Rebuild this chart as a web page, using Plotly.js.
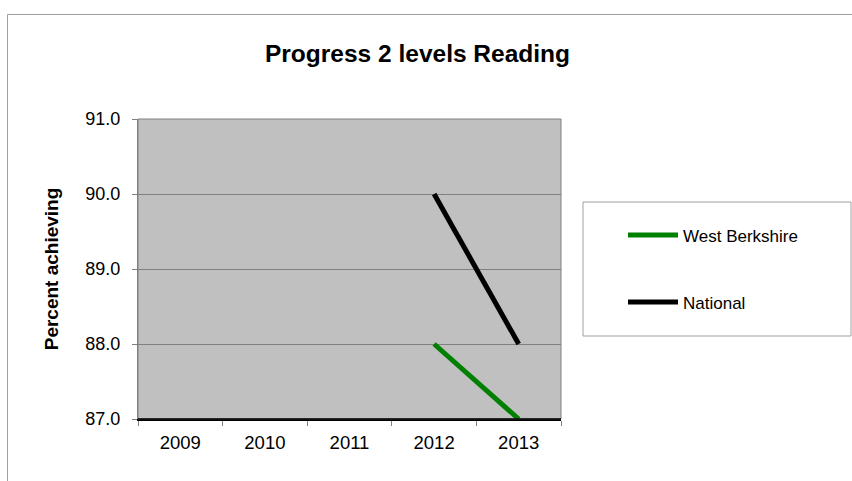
<!DOCTYPE html>
<html>
<head>
<meta charset="utf-8">
<script src="https://cdn.plot.ly/plotly-3.0.1.min.js"></script>
<style>html,body{margin:0;padding:0;background:#fff;}#chart{width:852px;height:481px;}</style>
</head>
<body>
<div id="chart"></div>
<script>
const years = ['2009', '2010', '2011', '2012', '2013'];
const westBerkshire = [null, null, null, 88.0, 87.0];
const national = [null, null, null, 90.0, 88.0];
const yTicks = [87, 88, 89, 90, 91];

const FONT = 'Liberation Sans, Arial, sans-serif';

const traces = [
  {x: years, y: westBerkshire, name: 'West Berkshire', type: 'scatter', mode: 'lines',
   line: {color: '#008000', width: 5}, legendgroup: 'a', hoverinfo: 'x+y'},
  {x: years, y: national, name: 'National', type: 'scatter', mode: 'lines',
   line: {color: '#000000', width: 5}, legendgroup: 'b', hoverinfo: 'x+y'}
];

const layout = {
  width: 852, height: 481,
  margin: {l: 138, r: 291, t: 119, b: 62},
  paper_bgcolor: '#ffffff',
  plot_bgcolor: '#c0c0c0',
  font: {family: FONT, size: 18, color: '#000'},
  title: {text: '<b>Progress 2 levels Reading</b>', font: {family: FONT, size: 24.5, color: '#000'},
          x: 417.5/852, xref: 'container', xanchor: 'center', y: 1 - 53/481, yref: 'container', yanchor: 'middle'},
  xaxis: {type: 'category', categoryorder: 'array', categoryarray: years, range: [-0.5, 4.5],
          tickson: 'boundaries', ticks: 'outside', ticklen: 5, tickcolor: '#808080',
          ticklabelstandoff: 6,
          showgrid: false, showline: true, linecolor: '#000', linewidth: 1.5, zeroline: false,
          tickfont: {family: FONT, size: 18.5, color: '#000'}, fixedrange: true},
  yaxis: {range: [87, 91], tickvals: yTicks, tickformat: '.1f', ticks: 'outside', ticklen: 5,
          tickcolor: '#808080', showgrid: true, gridcolor: '#808080', gridwidth: 1,
          ticklabelstandoff: 8,
          showline: true, linecolor: '#808080', zeroline: false,
          tickfont: {family: FONT, size: 18, color: '#000'},
          title: {text: '<b>Percent achieving</b>', font: {family: FONT, size: 19, color: '#000'}, standoff: 21},
          fixedrange: true},
  showlegend: true,
  legend: {x: (623-138)/423, xanchor: 'left', y: 0.672, yanchor: 'top', bgcolor: 'rgba(0,0,0,0)',
           borderwidth: 0, tracegroupgap: 42, traceorder: 'grouped', itemwidth: 50,
           font: {family: FONT, size: 17, color: '#000'}},
  shapes: [
    {type: 'rect', xref: 'paper', yref: 'paper', x0: 0, x1: 1, y0: 0, y1: 1,
     line: {color: '#808080', width: 1}, fillcolor: 'rgba(0,0,0,0)', layer: 'above'},
    {type: 'line', xref: 'paper', yref: 'paper', x0: 0, x1: 1, y0: 0, y1: 0,
     line: {color: '#000', width: 1.5}, layer: 'above'},
    {type: 'rect', xref: 'paper', yref: 'paper', x0: (583-138)/423, x1: (851-138)/423,
     y0: (419-336)/300, y1: (419-202)/300, line: {color: '#a0a0a0', width: 1}, fillcolor: '#ffffff', layer: 'below'},
    {type: 'line', xref: 'paper', yref: 'paper', x0: (7.5-138)/423, x1: (860-138)/423,
     y0: (419-14.5)/300, y1: (419-14.5)/300, line: {color: '#a0a0a0', width: 1}},
    {type: 'line', xref: 'paper', yref: 'paper', x0: (7.5-138)/423, x1: (7.5-138)/423,
     y0: (419-14.5)/300, y1: (419-500)/300, line: {color: '#a0a0a0', width: 1}}
  ]
};

Plotly.newPlot('chart', traces, layout, {displayModeBar: false, staticPlot: true});
</script>
</body>
</html>
